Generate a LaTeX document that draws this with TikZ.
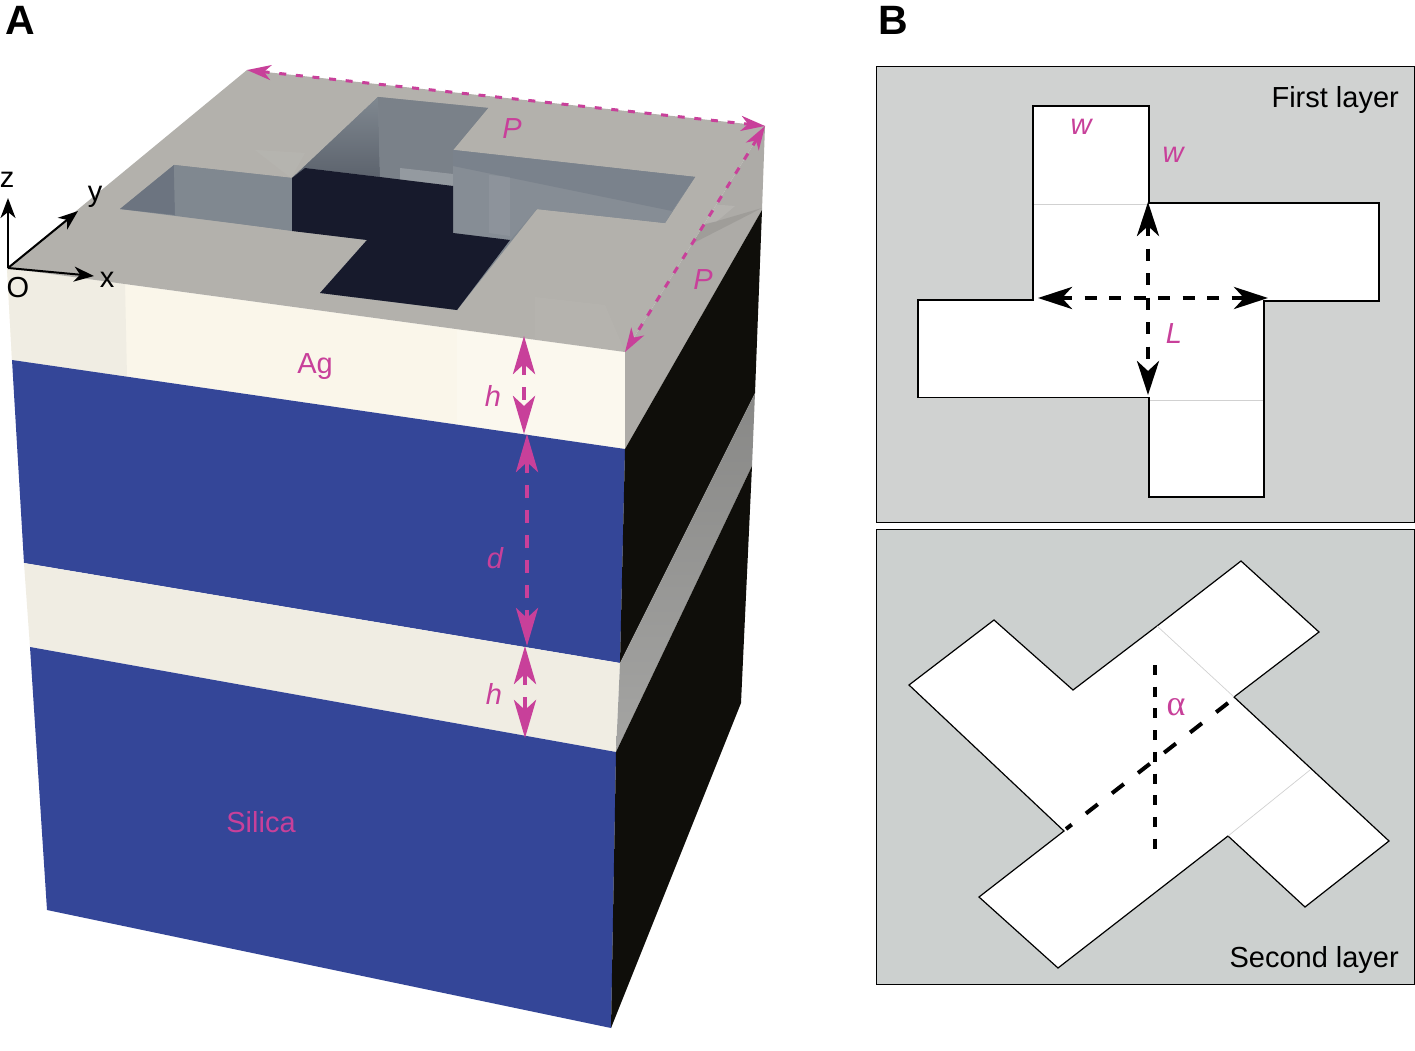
\documentclass[tikz,border=0pt]{standalone}
\usepackage{fontspec}
\setmainfont{Liberation Sans}
\newfontfamily\alphafont{Liberation Serif}
\usetikzlibrary{arrows.meta}
\definecolor{mag}{HTML}{C8409A}
\definecolor{silica}{HTML}{344698}
\definecolor{silver}{HTML}{FAF6EA}
\definecolor{silverb}{HTML}{F0EDE3}
\definecolor{topg}{HTML}{B3B1AC}
\definecolor{sideg}{HTML}{ADABA7}
\definecolor{bandg}{HTML}{A0A09E}
\definecolor{blk}{HTML}{0F0E0A}
\definecolor{floorc}{HTML}{171A2C}
\definecolor{wallA}{HTML}{6C7480}
\definecolor{wallB}{HTML}{808890}
\definecolor{wallC}{HTML}{7A828C}
\definecolor{wallD}{HTML}{868D95}
\definecolor{panelA}{HTML}{D0D2D1}
\definecolor{panelB}{HTML}{CCD0CF}
\tikzset{
  x=1pt,y=-1pt,
  label/.style={inner sep=0pt,font=\fontsize{29}{30}\selectfont},
  maglabel/.style={label,text=mag},
  maglabelit/.style={label,text=mag,font=\fontsize{29}{30}\selectfont\itshape},
  panellabel/.style={label,anchor=base east},
  heading/.style={inner sep=0pt,font=\fontsize{41}{42}\selectfont\bfseries,anchor=base west},
  axisarrow/.style={draw=black,line width=2pt,-{Stealth[length=20pt,width=15pt,inset=6pt]}},
  dimbig/.style={draw=mag,line width=4.5pt,dash pattern=on 12.7pt off 12.3pt,{Stealth[length=38pt,width=22pt,inset=10pt]}-{Stealth[length=38pt,width=22pt,inset=10pt]}},
  dimsmall/.style={draw=mag,line width=3pt,dash pattern=on 7pt off 9.7pt,{Stealth[length=24pt,width=15pt,inset=7pt]}-{Stealth[length=24pt,width=15pt,inset=7pt]}},
  dimblack/.style={draw=black,line width=4.5pt,dash pattern=on 12pt off 12.5pt,{Stealth[length=34pt,width=22pt,inset=10pt]}-{Stealth[length=34pt,width=22pt,inset=10pt]}},
  dashblackv/.style={draw=black,line width=4pt,dash pattern=on 10pt off 11.7pt},
  dashblackd/.style={draw=black,line width=4pt,dash pattern=on 15pt off 18pt},
  crossline/.style={draw=black,line width=1.2pt,fill=white,line join=miter},
  faint/.style={draw=black!18,line width=0.7pt},
  panel/.style={draw=black,line width=1pt},
}
\begin{document}
\begin{tikzpicture}
\useasboundingbox (0,0) rectangle (1415,1051);
\fill[white] (0,0) rectangle (1415,1051);

% Block corners
\coordinate (O) at (7,268);
\coordinate (TB) at (247,70);
\coordinate (TR) at (765,126);
\coordinate (TF) at (625,352);

% Front face layers
\fill[silver] (O) -- (TF) -- (625,449) -- (12,360) -- cycle;
\fill[silverb] (O) -- (125,284) -- (127,377) -- (12,360) -- cycle;
\fill[silver!80!white] (457,330) -- (625,352) -- (625,449) -- (457,425) -- cycle;
\fill[silica] (12,360) -- (625,449) -- (620,663) -- (24,563) -- cycle;
\fill[silverb] (24,563) -- (620,663) -- (616,752) -- (30,647) -- cycle;
\fill[silica] (30,647) -- (616,752) -- (611,1028) -- (47,910) -- cycle;

% Right face
\fill[sideg] (TF) -- (TR) -- (762,210) -- (625,449) -- cycle;
\fill[white,opacity=.1] (694,203) -- (735,206) -- (716,222) -- (695,224) -- cycle;
\fill[black,opacity=.08] (762,208) -- (700,226) -- (680,250) -- cycle;
\fill[blk] (625,449) -- (762,210) -- (755,393) -- (620,663) -- cycle;
\shade[left color=bandg!85!black,right color=bandg!95!white,shading angle=0,draw=none] (620,663) -- (755,393) -- (752,466) -- (616,752) -- cycle;
\fill[blk] (616,752) -- (752,466) -- (741,703) -- (611,1028) -- cycle;

% Top face
\fill[topg] (O) -- (TB) -- (TR) -- (TF) -- cycle;
\fill[white,opacity=.04] (255,150) -- (305,153) -- (291,178) -- cycle;
\fill[white,opacity=.03] (535,297) -- (605,305) -- (625,352) -- (535,340) -- cycle;

% Hole: full outline as wall base
\fill[wallB] (378,97) -- (488,108) -- (453,150) -- (695,177) -- (665,223) -- (537,209) -- (457,310) -- (320,293) -- (367,240) -- (120,209) -- (174,165) -- (292,178) -- cycle;
% left arm walls
\fill[wallA] (120,209) -- (174,165) -- (175,215) -- cycle;
\fill[wallB] (174,165) -- (292,178) -- (292,231) -- (175,215) -- cycle;
% top arm walls
\shade[top color=wallB,bottom color=wallA!85!black,draw=none] (292,178) -- (378,97) -- (380,177) -- (305,168) -- cycle;
\fill[wallB!95!black] (378,97) -- (488,108) -- (453,150) -- (453,186) -- (380,177) -- cycle;
\fill[white,opacity=.2] (400,168) -- (453,174) -- (453,186) -- (400,180) -- cycle;
% right arm walls
\fill[wallD] (453,150) -- (695,177) -- (665,223) -- (537,209) -- (510,240) -- (453,233) -- cycle;
\fill[wallC] (453,150) -- (695,177) -- (672,211) -- (453,166) -- cycle;
\fill[white,opacity=.06] (489,175) -- (510,177) -- (510,236) -- (489,233) -- cycle;
% floor
\fill[floorc] (292,178) -- (305,168) -- (380,177) -- (453,186) -- (453,233) -- (510,240) -- (457,310) -- (320,293) -- (367,240) -- (292,231) -- cycle;

% Axes
\coordinate (Oz) at (8,198);
\coordinate (Oy) at (78,211);
\coordinate (Ox) at (94,276);
\coordinate (Oo) at (8,268);
\draw[axisarrow] (Oo) -- (Oz);
\draw[axisarrow] (Oo) -- (Oy);
\draw[axisarrow] (Oo) -- (Ox);

% Dimensions
\draw[dimsmall] (TB) -- (TR);
\draw[dimsmall] (TR) -- (TF);
\coordinate (h1a) at (524,336);
\coordinate (h1b) at (524,434);
\coordinate (da) at (527,434);
\coordinate (db) at (527,646);
\coordinate (h2a) at (525,646);
\coordinate (h2b) at (525,738);
\draw[dimbig] (h1a) -- (h1b);
\draw[dimbig] (da) -- (db);
\draw[dimbig] (h2a) -- (h2b);

% Labels, panel A
\node[heading] (labA) at (5,35) {A};
\node[label] (labz) at (7,180) {z};
\node[label] (laby) at (95,197) {y};
\node[label] (labO) at (18,288) {O};
\node[label] (labx) at (107,280) {x};
\node[maglabel] (labAg) at (315,367) {Ag};
\node[maglabel] (labSi) at (261,822) {Silica};
\node[maglabelit] (labP1) at (512,129) {P};
\node[maglabelit] (labP2) at (703,280) {P};
\node[maglabelit] (labh1) at (493,396) {h};
\node[maglabelit] (labd) at (495,558) {d};
\node[maglabelit] (labh2) at (494,694) {h};

% Panel B
\node[heading] (labB) at (878,35) {B};
\fill[panelA] (876,67) rectangle (1414,522);
\draw[panel] (876,67) rectangle (1414,522);
\fill[panelB] (876,529) rectangle (1414,984);
\draw[panel] (876,529) rectangle (1414,984);

\node[panellabel] (first) at (1399,108) {First layer};
\node[panellabel] (second) at (1399,967) {Second layer};

\draw[crossline] (1033,106) -- (1149,106) -- (1149,203) -- (1379,203) -- (1379,301) -- (1264,301) -- (1264,497) -- (1149,497) -- (1149,397.5) -- (918,397.5) -- (918,300) -- (1033,300) -- cycle;
\draw[faint] (1034,204) -- (1148,204);
\draw[faint] (1150,400) -- (1263,400);
\coordinate (va) at (1148,202);
\coordinate (vb) at (1148,395);
\coordinate (ha) at (1038,298);
\coordinate (hb) at (1268,298);
\draw[dimblack] (va) -- (vb);
\draw[dimblack] (ha) -- (hb);
\node[maglabelit] (labw1) at (1081,127) {w};
\node[maglabelit] (labw2) at (1173,155) {w};
\node[maglabelit] (labL) at (1174,334) {L};

\draw[crossline] (1241,561) -- (1319,632) -- (1234,697) -- (1389,841) -- (1305,907) -- (1228,836) -- (1058,968) -- (979,897) -- (1064,831) -- (909,685) -- (994,620) -- (1073,690) -- (1157,626) -- cycle;
\draw[faint] (1157,626) -- (1234,697);
\draw[faint] (1228,836) -- (1310,770);
\coordinate (ra) at (1155,665);
\coordinate (rb) at (1155,849);
\coordinate (sa) at (1228,703);
\coordinate (sb) at (1066,829);
\draw[dashblackv] (ra) -- (rb);
\draw[dashblackd] (sa) -- (sb);
\node[label,text=mag,font=\fontsize{36}{36}\selectfont\alphafont] (labalpha) at (1176,707) {α};
\end{tikzpicture}
\end{document}
